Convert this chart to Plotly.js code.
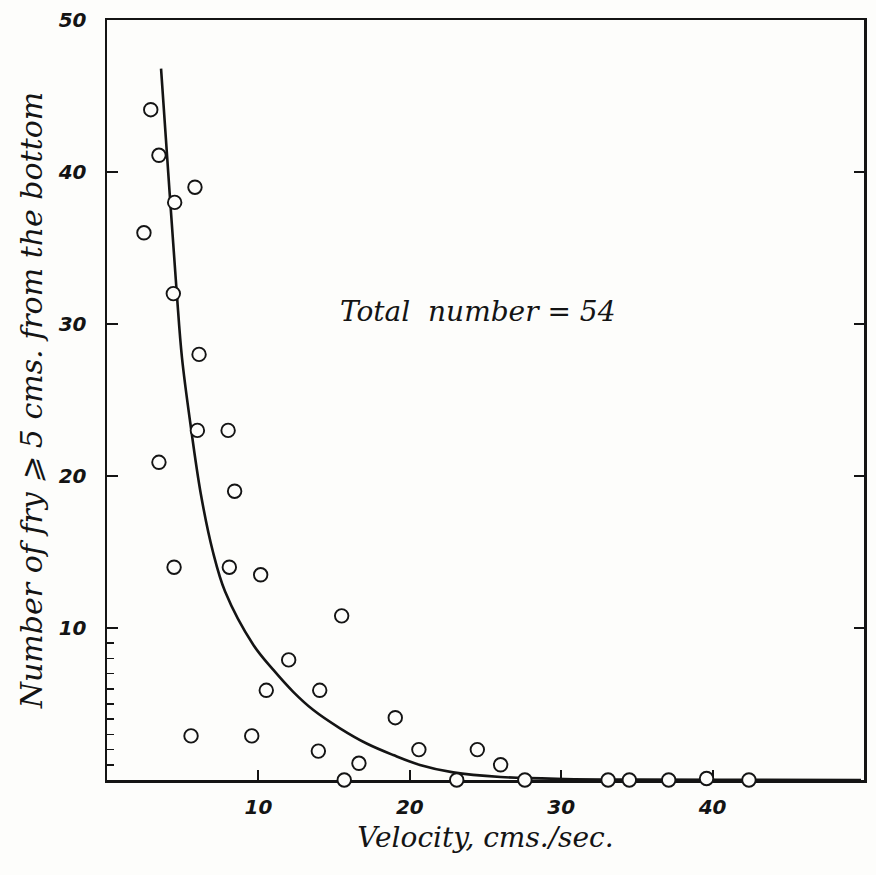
<!DOCTYPE html>
<html>
<head>
<meta charset="utf-8">
<script src="https://cdn.plot.ly/plotly-3.0.1.min.js"></script>
<style>
  html, body { margin: 0; padding: 0; background: #fdfdfb; }
  #chart { width: 876px; height: 875px; }
</style>
</head>
<body>
<div id="chart"></div>
<script>
// Observed fry counts (open circles)
const velocity = [2.44, 2.89, 3.43, 3.43, 4.47, 4.38, 4.43, 5.55, 5.81, 6.08,
                  5.97, 8.0, 8.43, 8.08, 9.56, 10.15, 10.52, 12.0, 14.05, 13.96,
                  15.5, 15.67, 16.64, 19.04, 20.6, 23.1, 24.46, 26.0, 27.6, 33.1,
                  34.5, 37.1, 39.6, 42.4];
const fryCount = [36.0, 44.1, 41.1, 20.9, 38.0, 32.0, 14.0, 2.9, 39.0, 28.0,
                  23.0, 23.0, 19.0, 14.0, 2.9, 13.5, 5.9, 7.9, 5.9, 1.9,
                  10.8, 0, 1.1, 4.1, 2.0, 0, 2.0, 1.0, 0, 0,
                  0, 0, 0.1, 0];

// Fitted curve
const fitVelocity = [3.57, 4.18, 4.61, 4.95, 5.5, 6.2, 7.0, 7.8, 9.66,
                     10.99, 12.3, 13.63, 15.39, 17.15, 18.91, 20.67, 22.87, 26.0, 30.2,
                     35.0, 42.0, 49.8];
const fitCount    = [46.8, 38.0, 32.0, 27.8, 23.5, 18.8, 15.0, 12.4, 8.9,
                     7.24, 5.8, 4.6, 3.4, 2.4, 1.64, 0.99, 0.5, 0.2, 0.07,
                     0.03, 0.01, 0.0];

// Axis ticks
const majorTicks = [10, 20, 30, 40, 50];
const majorTickText = ['10', '20', '30', '40', '50'];
const rightTicks = [10, 20, 30, 40];
const minorYTicks = [1, 2, 3, 4, 5, 6, 7, 8, 9];

const ink = '#141414';
const serif = 'DejaVu Serif, Liberation Serif, serif';
const tickFont = { family: 'DejaVu Sans, sans-serif', size: 20, color: ink, style: 'italic', weight: 'bold' };

const traces = [
  {
    type: 'scatter', mode: 'lines',
    x: fitVelocity, y: fitCount,
    line: { color: ink, width: 2.6, shape: 'spline', smoothing: 1 },
    xaxis: 'x', yaxis: 'y',
    hoverinfo: 'skip', showlegend: false
  },
  {
    type: 'scatter', mode: 'markers',
    x: velocity, y: fryCount,
    marker: { symbol: 'circle', size: 13.5, color: '#fdfdfb', line: { color: ink, width: 1.9 } },
    cliponaxis: false,
    xaxis: 'x', yaxis: 'y2',
    showlegend: false
  }
];

const layout = {
  width: 876, height: 875,
  margin: { l: 107, r: 12, t: 20, b: 95 },
  paper_bgcolor: '#fdfdfb',
  plot_bgcolor: '#fdfdfb',
  showlegend: false,
  xaxis: {
    range: [0, 50], fixedrange: true,
    tickmode: 'array', tickvals: majorTicks, ticktext: majorTickText,
    ticks: 'inside', ticklen: 10, tickwidth: 2, tickcolor: ink,
    showline: true, linewidth: 2.5, linecolor: ink, mirror: true,
    showgrid: false, zeroline: false,
    tickfont: tickFont, ticklabelstandoff: 7,
    layer: 'below traces',
    title: { text: 'Velocity, cms./sec.', font: { family: serif, size: 28, color: ink, style: 'italic' }, standoff: 10 }
  },
  yaxis: {
    range: [0, 50], fixedrange: true,
    tickmode: 'array', tickvals: majorTicks, ticktext: majorTickText,
    ticks: 'inside', ticklen: 11, tickwidth: 2, tickcolor: ink,
    minor: { tickmode: 'array', tickvals: minorYTicks, ticks: 'inside', ticklen: 7, tickwidth: 1.8, tickcolor: ink, showgrid: false },
    showline: true, linewidth: 2.5, linecolor: ink, mirror: true,
    showgrid: false, zeroline: false,
    tickfont: tickFont, ticklabelstandoff: 14,
    layer: 'below traces',
    title: { text: 'Number of fry ⩾ 5 cms. from the bottom', font: { family: serif, size: 30, color: ink, style: 'italic' }, standoff: 6 }
  },
  yaxis2: {
    overlaying: 'y', side: 'right',
    range: [0, 50], fixedrange: true,
    tickmode: 'array', tickvals: rightTicks,
    ticks: 'inside', ticklen: 10, tickwidth: 2, tickcolor: ink,
    showticklabels: false, showline: false, showgrid: false, zeroline: false
  },
  annotations: [
    {
      x: 24.5, y: 30.8, xref: 'x', yref: 'y',
      text: 'Total\u00a0\u00a0number = 54', showarrow: false,
      font: { family: serif, size: 28, color: ink, style: 'italic' }
    }
  ]
};

Plotly.newPlot('chart', traces, layout, { staticPlot: true, displayModeBar: false });
</script>
</body>
</html>
